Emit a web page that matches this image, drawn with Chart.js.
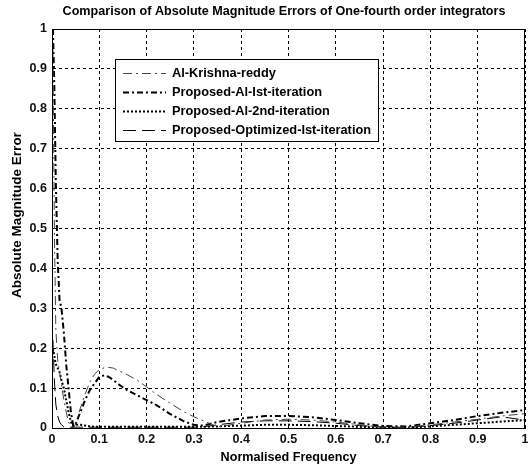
<!DOCTYPE html>
<html>
<head>
<meta charset="utf-8">
<script src="https://cdn.jsdelivr.net/npm/chart.js@4/dist/chart.umd.min.js"></script>
<style>
  html, body { margin: 0; padding: 0; background: #fff; }
</style>
</head>
<body>
<canvas id="myChart" width="528" height="466"></canvas>
<script>
// normalised frequency samples (shared by all series)
const freq = [0.002, 0.005, 0.008, 0.012, 0.016, 0.02, 0.025, 0.03, 0.035, 0.04, 0.045,
  0.05, 0.06, 0.07, 0.08, 0.09, 0.1, 0.11, 0.12, 0.13, 0.14, 0.16, 0.18, 0.2, 0.22,
  0.25, 0.28, 0.3, 0.32, 0.35, 0.4, 0.45, 0.5, 0.55, 0.6, 0.65, 0.7, 0.75, 0.8, 0.85,
  0.9, 0.95, 1.0];

const alKrishnaReddy = [0.95, 0.5, 0.25, 0.17, 0.14, 0.11, 0.07, 0.04, 0.015, 0.003, 0.0,
  0.01, 0.05, 0.085, 0.115, 0.135, 0.146, 0.151, 0.152, 0.15, 0.144, 0.133, 0.12, 0.103, 0.085,
  0.062, 0.04, 0.028, 0.018, 0.003, 0.012, 0.02, 0.022, 0.02, 0.015, 0.008, 0.002, 0.002, 0.008, 0.015,
  0.022, 0.03, 0.036];

const proposedAlIst = [1.0, 0.85, 0.62, 0.42, 0.32, 0.3, 0.24, 0.16, 0.1, 0.04, 0.005,
  0.01, 0.04, 0.07, 0.095, 0.112, 0.128, 0.132, 0.128, 0.12, 0.11, 0.094, 0.082, 0.07, 0.058,
  0.035, 0.016, 0.008, 0.006, 0.015, 0.024, 0.03, 0.03, 0.027, 0.02, 0.012, 0.005, 0.004, 0.012, 0.02,
  0.03, 0.038, 0.045];

const proposedAl2nd = [0.2, 0.18, 0.16, 0.15, 0.14, 0.12, 0.1, 0.07, 0.04, 0.015, 0.005,
  0.008, 0.008, 0.006, 0.004, 0.003, 0.003, 0.003, 0.003, 0.003, 0.003, 0.003, 0.003, 0.003, 0.003,
  0.003, 0.003, 0.003, 0.003, 0.004, 0.006, 0.008, 0.008, 0.007, 0.005, 0.003, 0.001, 0.001, 0.004, 0.008,
  0.012, 0.016, 0.02];

const proposedOptimizedIst = [0.22, 0.12, 0.06, 0.03, 0.015, 0.008, 0.003, 0.002, 0.002, 0.002, 0.002,
  0.002, 0.002, 0.002, 0.002, 0.002, 0.002, 0.002, 0.002, 0.002, 0.002, 0.002, 0.002, 0.002, 0.002,
  0.002, 0.002, 0.002, 0.003, 0.008, 0.015, 0.018, 0.018, 0.016, 0.012, 0.006, 0.002, 0.001, 0.006, 0.012,
  0.02, 0.028, 0.02];

const xTicks = [0, 0.1, 0.2, 0.3, 0.4, 0.5, 0.6, 0.7, 0.8, 0.9, 1];
const yTicks = [0, 0.1, 0.2, 0.3, 0.4, 0.5, 0.6, 0.7, 0.8, 0.9, 1];

const FONT = '"Liberation Sans", Arial, sans-serif';

function pts(ys) {
  return freq.map((f, i) => ({x: f, y: ys[i]}));
}

function series(label, ys, width, dash, color) {
  return {
    label: label,
    data: pts(ys),
    borderColor: color,
    borderWidth: width,
    borderDash: dash,
    pointRadius: 0,
    fill: false,
    tension: 0,
    showLine: true
  };
}

// title, frame, y label and legend drawn by hand like the matlab figure
const decorations = {
  id: 'decorations',
  afterDraw(chart) {
    const ctx = chart.ctx;
    const a = chart.chartArea;
    ctx.save();
    ctx.strokeStyle = '#000';
    ctx.lineWidth = 1;
    ctx.setLineDash([]);
    ctx.strokeRect(Math.round(a.left) + 0.5, Math.round(a.top) + 0.5,
      Math.round(a.right - a.left) - 1, Math.round(a.bottom - a.top));

    ctx.fillStyle = '#000';
    ctx.font = 'bold 12.6px ' + FONT;
    ctx.textAlign = 'center';
    ctx.textBaseline = 'middle';
    ctx.fillText('Comparison of Absolute Magnitude Errors of One-fourth order integrators', 284, 12);

    ctx.save();
    ctx.translate(17, 215);
    ctx.rotate(-Math.PI / 2);
    ctx.font = 'bold 13.5px ' + FONT;
    ctx.fillText('Absolute Magnitude Error', 0, 0);
    ctx.restore();

    // legend
    const bx = 115, by = 59, bw = 263, bh = 82;
    ctx.fillStyle = '#fff';
    ctx.fillRect(bx, by, bw, bh);
    ctx.strokeStyle = '#000';
    ctx.strokeRect(bx + 0.5, by + 0.5, bw, bh);
    ctx.font = 'bold 12.8px ' + FONT;
    const rows = [73, 92, 111, 130];
    chart.data.datasets.forEach((ds, i) => {
      const y = rows[i] + 0.5;
      ctx.strokeStyle = ds.borderColor;
      ctx.lineWidth = ds.borderWidth;
      ctx.setLineDash(ds.borderDash);
      ctx.beginPath();
      ctx.moveTo(123, y);
      ctx.lineTo(166, y);
      ctx.stroke();
      ctx.setLineDash([]);
      ctx.fillStyle = '#000';
      ctx.textAlign = 'left';
      ctx.fillText(ds.label, 172, rows[i]);
    });
    ctx.restore();
  }
};

new Chart(document.getElementById('myChart'), {
  type: 'scatter',
  data: {
    datasets: [
      series('Al-Krishna-reddy', alKrishnaReddy, 1, [9, 4, 2, 4], '#444'),
      series('Proposed-Al-Ist-iteration', proposedAlIst, 2, [6, 3, 2, 3], '#000'),
      series('Proposed-Al-2nd-iteration', proposedAl2nd, 2, [2, 2], '#000'),
      series('Proposed-Optimized-Ist-iteration', proposedOptimizedIst, 1, [13, 6], '#000')
    ]
  },
  options: {
    responsive: false,
    animation: false,
    layout: {padding: {top: 29, right: 3, left: 0, bottom: 0}},
    plugins: {
      legend: {display: false},
      tooltip: {enabled: false}
    },
    scales: {
      x: {
        type: 'linear',
        min: 0,
        max: 1,
        afterBuildTicks: s => { s.ticks = xTicks.map(v => ({value: v})); },
        afterFit: s => { s.height = 38; s.paddingLeft = 0; s.paddingRight = 0; },
        ticks: {
          color: '#111',
          font: {family: FONT, size: 12.5, weight: 'bold'},
          padding: 4,
          maxRotation: 0,
          autoSkip: false,
          callback: v => String(v)
        },
        grid: {color: '#000', lineWidth: 1, drawTicks: false},
        border: {color: '#000', width: 1, dash: [3, 3]},
        title: {
          display: true,
          text: 'Normalised Frequency',
          color: '#000',
          font: {family: FONT, size: 12.6, weight: 'bold'},
          padding: {top: 0, bottom: 1}
        }
      },
      y: {
        min: 0,
        max: 1,
        afterBuildTicks: s => { s.ticks = yTicks.map(v => ({value: v})); },
        afterFit: s => { s.width = 52; s.paddingTop = 0; s.paddingBottom = 0; },
        ticks: {
          color: '#111',
          font: {family: FONT, size: 12.5, weight: 'bold'},
          padding: 5,
          autoSkip: false,
          callback: v => String(v)
        },
        grid: {color: '#000', lineWidth: 1, drawTicks: false},
        border: {color: '#000', width: 1, dash: [3, 3]}
      }
    }
  },
  plugins: [decorations]
});
</script>
</body>
</html>
